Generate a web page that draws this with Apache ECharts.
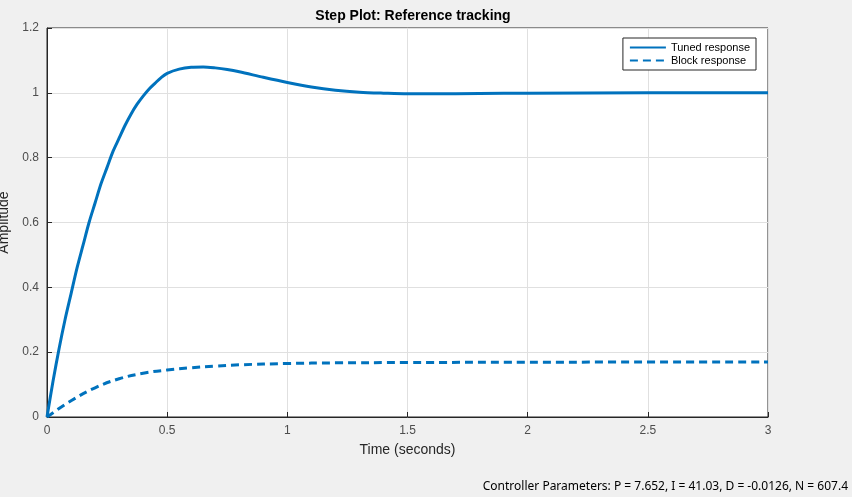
<!DOCTYPE html><html><head><meta charset="utf-8"><script src="https://cdn.jsdelivr.net/npm/echarts@6/dist/echarts.min.js"></script>
<style>html,body{margin:0;background:#f0f0f0}#c{width:852px;height:497px}</style></head><body><div id="c"></div><script>
const tunedT=[0,0.025,0.05,0.075,0.1,0.125,0.15,0.175,0.2,0.225,0.25,0.275,0.3,0.325,0.35,0.375,0.4,0.425,0.45,0.475,0.5,0.55,0.6,0.65,0.7,0.75,0.8,0.9,1.0,1.1,1.2,1.3,1.4,1.5,1.6,1.8,2.0,2.5,3.0];
const tunedY=[0,0.11,0.21,0.3,0.38,0.46,0.53,0.6,0.66,0.72,0.77,0.82,0.86,0.9,0.935,0.965,0.99,1.012,1.03,1.047,1.06,1.073,1.079,1.08,1.077,1.072,1.065,1.048,1.032,1.018,1.008,1.002,0.999,0.997,0.997,0.998,0.999,1.0,1.0];
const blockT=[0,0.1,0.2,0.3,0.4,0.5,0.6,0.7,0.8,1.0,1.2,1.5,2.0,3.0];
const blockY=[0,0.05,0.09,0.118,0.135,0.145,0.152,0.157,0.161,0.165,0.167,0.168,0.169,0.17];
const c=echarts.init(document.getElementById('c'));
const ax={axisLine:{show:true,lineStyle:{color:'#262626'}},axisTick:{show:true,inside:true,lineStyle:{color:'#262626'}},axisLabel:{color:'#4d4d4d',fontSize:12,fontFamily:'Liberation Sans'},splitLine:{show:true,lineStyle:{color:'#e0e0e0'}}};
c.setOption({backgroundColor:'#f0f0f0',animation:false,
title:{text:'Step Plot: Reference tracking',left:408,top:4,textAlign:'center',textStyle:{fontSize:14,fontWeight:'bold',color:'#000',fontFamily:'Liberation Sans'}},
graphic:[{type:'text',right:4,bottom:4,style:{text:'Controller Parameters: P = 7.652, I = 41.03, D = -0.0126, N = 607.4',fill:'#000',font:'12px "Noto Sans"'}}],
legend:{right:96,top:38,orient:'vertical',backgroundColor:'#fff',borderColor:'#262626',borderWidth:1,padding:[4,6],itemGap:2,itemWidth:36,itemHeight:10,itemStyle:{opacity:0},textStyle:{fontSize:11,fontFamily:'Liberation Sans',color:'#000'},data:['Tuned response','Block response']},
grid:{left:47,right:84,top:28,bottom:80,containLabel:false,outerBoundsMode:'none',backgroundColor:'#fff',show:true,borderColor:'#262626',borderWidth:1},
xAxis:Object.assign({type:'value',min:0,max:3,interval:0.5,name:'Time (seconds)',nameLocation:'middle',nameGap:26,nameTextStyle:{fontSize:14,color:'#262626',fontFamily:'Liberation Sans'}},ax),
yAxis:Object.assign({type:'value',min:0,max:1.2,interval:0.2,name:'Amplitude',nameLocation:'middle',nameGap:28,nameTextStyle:{fontSize:14,color:'#262626',fontFamily:'Liberation Sans'}},ax),
series:[{name:'Tuned response',type:'line',smooth:0.3,showSymbol:false,symbol:'none',color:'#0072BD',lineStyle:{width:3},data:tunedT.map((t,i)=>[t,tunedY[i]])},
{name:'Block response',type:'line',smooth:0.4,showSymbol:false,symbol:'none',color:'#0072BD',lineStyle:{width:3,type:[8,5]},data:blockT.map((t,i)=>[t,blockY[i]])}]});
</script></body></html>
